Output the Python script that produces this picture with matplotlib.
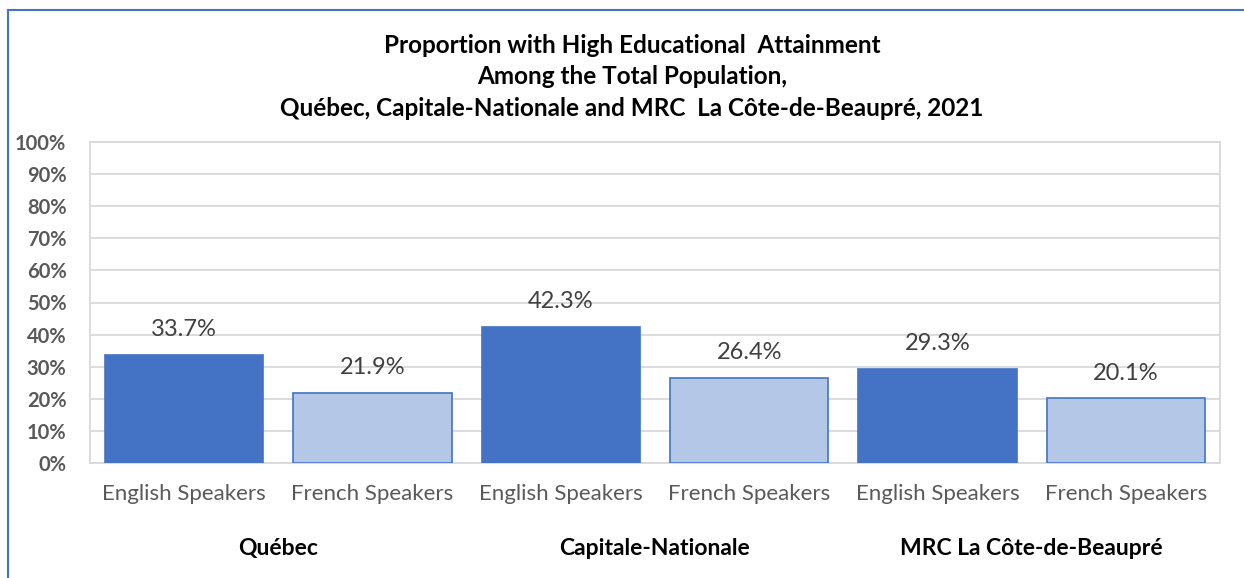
import matplotlib
matplotlib.use("Agg")
import matplotlib.pyplot as plt
from matplotlib.lines import Line2D

groups = ["Québec", "Capitale-Nationale", "MRC La Côte-de-Beaupré"]
categories = ["English Speakers", "French Speakers"]
english = [33.7, 42.3, 29.3]
french = [21.9, 26.4, 20.1]
yticks = [0, 10, 20, 30, 40, 50, 60, 70, 80, 90, 100]
title = ("Proportion with High Educational  Attainment\n"
         "Among the Total Population,\n"
         "Québec, Capitale-Nationale and MRC  La Côte-de-Beaupré, 2021")

plt.rcParams['font.family'] = ['Lato', 'DejaVu Sans']

W, H = 1244, 578
fig = plt.figure(figsize=(W / 100, H / 100), dpi=100)
ax = fig.add_axes([90 / W, 1 - 463 / H, (1220 - 90) / W, (463 - 142) / H])

dark = "#4472C4"
light = "#B4C7E7"

values = []
colors = []
labels = []
for e, f in zip(english, french):
    values += [e, f]
    colors += [dark, light]
    labels += categories

xs = list(range(len(values)))
ax.bar(xs, values, width=0.84, color=colors, edgecolor=dark, linewidth=1.2, zorder=3)

for x, v in zip(xs, values):
    ax.text(x, v + 7.9, f"{v:.1f}%", ha="center", va="center", fontsize=17,
            color="#404040", zorder=4)

ax.set_xlim(-0.5, len(values) - 0.5)
ax.set_ylim(0, 100)
ax.set_yticks(yticks)
ax.set_yticklabels([f"{t}%" for t in yticks], fontsize=14.5, color="#595959", fontweight="bold")
ax.set_xticks(xs)
ax.set_xticklabels(labels, fontsize=16, color="#595959")
ax.tick_params(axis="both", length=0)
ax.tick_params(axis="x", pad=15)
ax.tick_params(axis="y", pad=17)
ax.grid(axis="y", color="#D9D9D9", linewidth=1.3, zorder=0)
for s in ax.spines.values():
    s.set_color("#D9D9D9")
    s.set_linewidth(1.3)

for i, g in enumerate(groups):
    ax.text(2 * i + 0.5, -26.5, g, transform=ax.transData, ha="center", va="center",
            fontsize=16.5, fontweight="bold", color="black")

fig.text(632 / W, 1 - 77 / H, title, ha="center", va="center",
         fontsize=17.5, fontweight="bold", color="black", linespacing=1.45)

fig.add_artist(Line2D([8 / W, 8 / W], [0, 1 - 10 / H], color="#4472C4", linewidth=1.5,
                      transform=fig.transFigure))
fig.add_artist(Line2D([8 / W, 1], [1 - 10 / H, 1 - 10 / H], color="#4472C4", linewidth=1.5,
                      transform=fig.transFigure))

fig.savefig("out.png", dpi=100)
